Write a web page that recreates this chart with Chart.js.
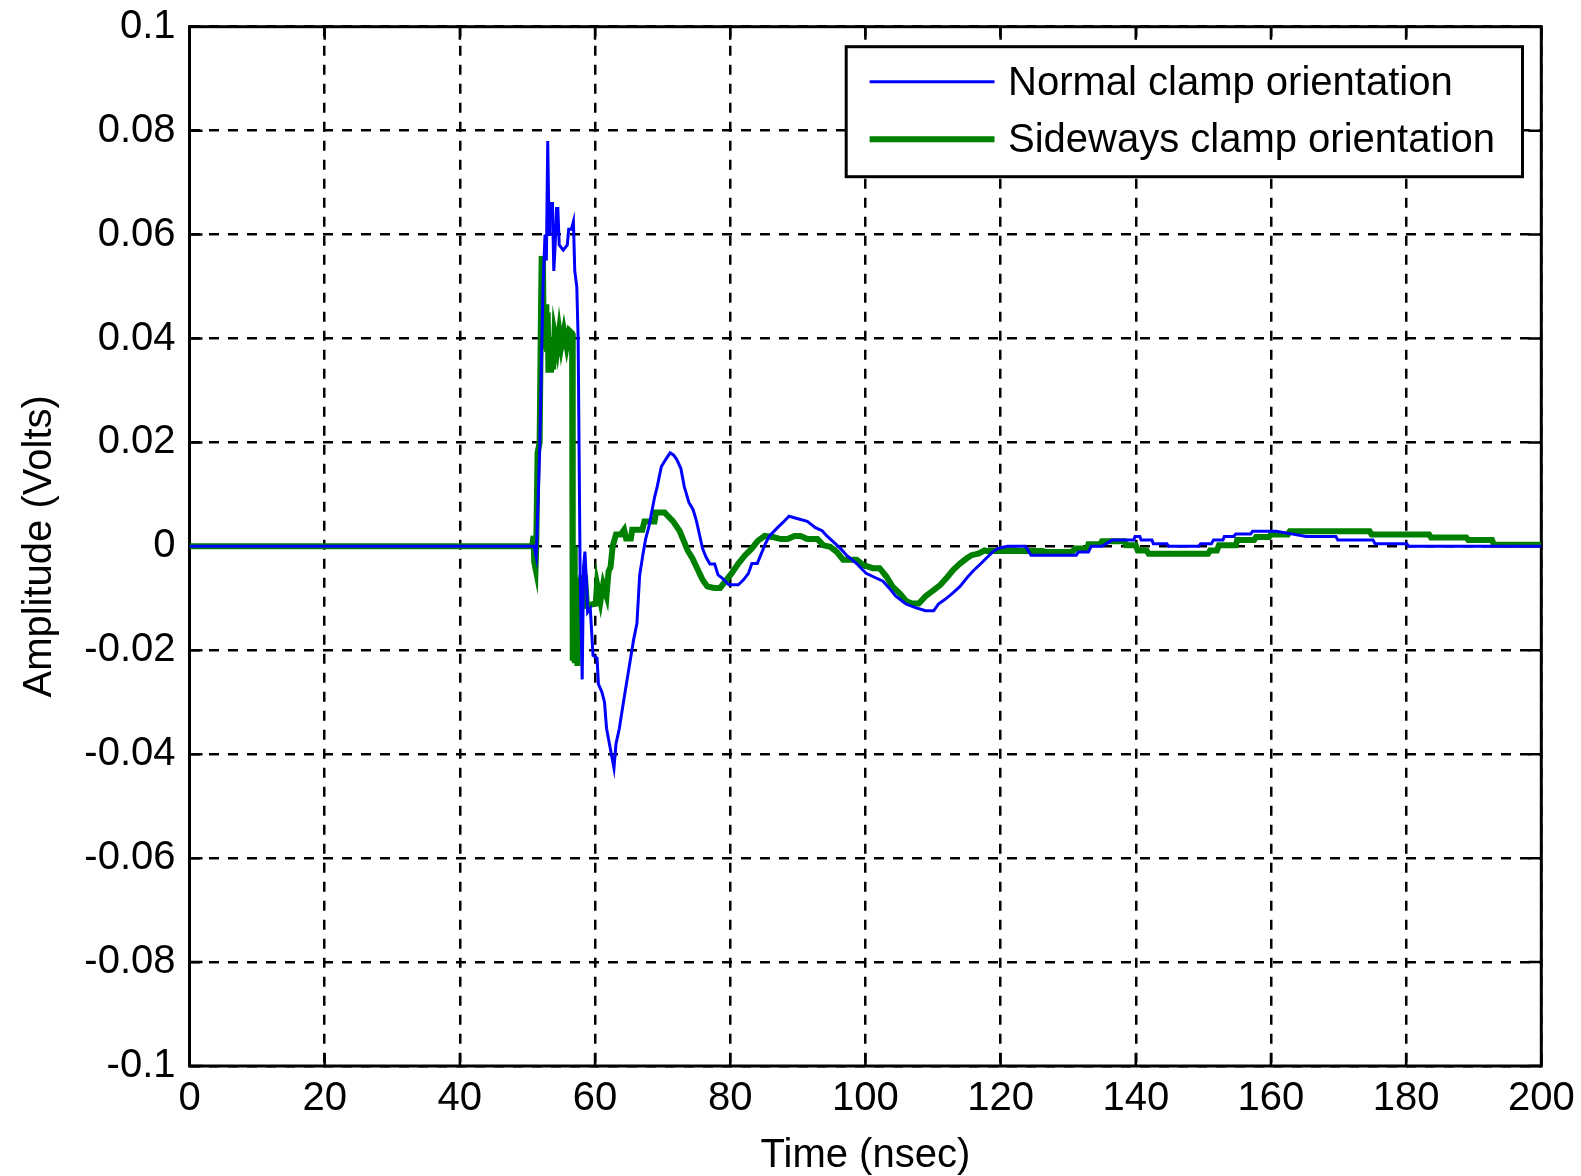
<!DOCTYPE html>
<html>
<head>
<meta charset="utf-8">
<script src="https://cdn.jsdelivr.net/npm/chart.js@4.4.1/dist/chart.umd.min.js"></script>
<style>
  html, body { margin: 0; padding: 0; background: #fff; }
  #wrap { width: 1581px; height: 1176px; }
</style>
</head>
<body>
<div id="wrap"><canvas id="c" width="1581" height="1176"></canvas></div>
<script>
// ---- data ----
const xTickValues = [0, 20, 40, 60, 80, 100, 120, 140, 160, 180, 200];
const yTickValues = [-0.1, -0.08, -0.06, -0.04, -0.02, 0, 0.02, 0.04, 0.06, 0.08, 0.1];
const seriesLabels = ['Normal clamp orientation', 'Sideways clamp orientation'];

const normalTime = [0, 51.0, 51.3, 51.8, 52.3, 52.6, 52.8, 53.0, 53.2, 53.3, 53.7, 53.9, 54.1, 54.3, 54.5, 54.7, 55.3, 55.9, 56.1, 56.5, 56.8, 57.0, 57.3, 57.5, 57.8, 58.1, 58.3, 58.5, 58.7, 58.9, 59.3, 59.7, 60.3, 60.5, 61.0, 61.4, 61.7, 62.2, 62.8, 63.1, 63.6, 64.2, 64.7, 65.2, 65.7, 66.2, 66.6, 67.1, 67.5, 68.0, 68.8, 69.2, 69.8, 70.4, 71.1, 71.6, 72.1, 72.7, 73.2, 73.9, 74.5, 75.0, 75.5, 75.9, 76.4, 77.0, 77.7, 78.2, 78.8, 79.8, 81.2, 82.0, 82.7, 83.2, 84.0, 84.6, 85.2, 85.8, 87.0, 87.8, 88.7, 90.0, 91.4, 92.6, 93.6, 94.3, 95.3, 96.3, 97.2, 98.7, 100.1, 101.1, 102.6, 103.5, 104.5, 106.0, 107.4, 108.9, 110.1, 110.8, 111.8, 113.0, 114.0, 115.0, 115.9, 117.1, 118.1, 118.8, 119.6, 121.0, 123.7, 124.5, 131.2, 131.5, 133.0, 133.4, 135.0, 136.5, 139.7, 139.9, 140.6, 140.8, 142.4, 142.6, 144.6, 144.9, 149.3, 149.6, 151.2, 151.5, 152.9, 153.1, 154.5, 154.8, 157.0, 157.3, 160.8, 163.0, 165.2, 169.6, 169.9, 175.1, 175.4, 180.1, 180.4, 192.2, 200];
const normalAmp = [0, 0, -0.002, 0.018, 0.05, 0.060, 0.055, 0.078, 0.060, 0.066, 0.066, 0.053, 0.058, 0.065, 0.065, 0.058, 0.057, 0.058, 0.061, 0.061, 0.0625, 0.053, 0.050, 0.040, -0.006, -0.0256, -0.004, -0.001, -0.006, -0.0127, -0.012, -0.021, -0.0215, -0.0265, -0.028, -0.030, -0.035, -0.0385, -0.0427, -0.038, -0.035, -0.030, -0.026, -0.022, -0.018, -0.0148, -0.0056, -0.0014, 0.0015, 0.004, 0.0094, 0.0115, 0.0153, 0.0166, 0.0180, 0.0176, 0.0167, 0.015, 0.0115, 0.0084, 0.0071, 0.0049, 0.002, -0.0004, -0.002, -0.0034, -0.0034, -0.0055, -0.0061, -0.0074, -0.0074, -0.0064, -0.0052, -0.0033, -0.0033, -0.0014, 0.0005, 0.002, 0.0036, 0.0046, 0.0058, 0.0053, 0.0048, 0.0036, 0.003, 0.002, 0.0008, -0.0004, -0.0017, -0.0033, -0.0052, -0.0058, -0.0067, -0.008, -0.0096, -0.0111, -0.0118, -0.0124, -0.0124, -0.0111, -0.0102, -0.0089, -0.0077, -0.0061, -0.0048, -0.0033, -0.002, -0.0011, -0.0004, 0, 0, -0.0017, -0.0017, -0.0011, -0.0011, 0, 0, 0.0012, 0.0012, 0.0019, 0.0019, 0.0012, 0.0012, 0.0005, 0.0005, 0, 0, 0.0005, 0.0005, 0.0012, 0.0012, 0.0019, 0.0019, 0.0024, 0.0024, 0.0029, 0.0029, 0.0024, 0.0019, 0.0019, 0.0012, 0.0012, 0.0005, 0.0005, 0, 0, 0];

const sidewaysTime = [0, 50.7, 50.9, 51.0, 51.2, 51.3, 51.5, 51.8, 52.0, 52.1, 52.3, 52.4, 52.6, 52.8, 52.9, 53.0, 53.1, 53.5, 53.7, 53.8, 54.0, 54.4, 54.7, 55.0, 55.4, 55.8, 56.2, 56.6, 56.7, 56.9, 57.0, 57.2, 57.4, 57.6, 57.8, 58.0, 58.2, 58.5, 58.8, 60.1, 60.3, 60.8, 61.2, 61.7, 62.0, 62.3, 62.6, 63.1, 63.8, 64.3, 64.6, 65.3, 65.5, 67.0, 67.3, 68.8, 69.0, 70.3, 70.8, 71.5, 72.5, 73.2, 73.7, 74.4, 75.1, 75.9, 76.6, 77.6, 78.5, 79.3, 80.2, 81.2, 82.2, 83.2, 84.1, 85.1, 86.3, 87.5, 88.5, 89.5, 90.4, 91.4, 92.9, 93.8, 94.8, 95.8, 96.7, 98.7, 99.7, 101.1, 102.1, 103.1, 104.0, 105.2, 106.0, 106.9, 107.9, 108.9, 109.9, 111.1, 112.0, 113.0, 114.0, 115.0, 115.7, 116.7, 117.6, 118.0, 126.2, 126.8, 130.6, 131.0, 132.8, 133.0, 134.7, 135.0, 138.3, 138.6, 140.0, 140.3, 141.6, 141.9, 150.7, 151.0, 152.0, 152.3, 154.8, 155.0, 157.5, 157.8, 159.7, 160.0, 162.5, 162.8, 174.6, 174.9, 183.4, 183.7, 188.9, 189.2, 192.7, 193.0, 200];
const sidewaysAmp = [0, 0, 0.002, -0.003, -0.0043, 0, 0.018, 0.020, 0.045, 0.0553, 0.0553, 0.038, 0.046, 0.046, 0.038, 0.045, 0.034, 0.034, 0.040, 0.034, 0.041, 0.038, 0.0415, 0.0385, 0.0415, 0.0385, 0.0415, 0.041, -0.022, 0.0, -0.0225, -0.006, -0.023, -0.008, -0.012, -0.0055, -0.011, -0.0055, -0.0114, -0.011, -0.0073, -0.0106, -0.0073, -0.0095, -0.0048, -0.004, 0, 0.0023, 0.0023, 0.0032, 0.0015, 0.0015, 0.0032, 0.0032, 0.0048, 0.0048, 0.0065, 0.0065, 0.0058, 0.0049, 0.003, 0.0008, -0.0008, -0.0023, -0.0042, -0.0064, -0.0077, -0.008, -0.008, -0.0067, -0.0052, -0.0033, -0.0017, -0.0004, 0.0011, 0.002, 0.0018, 0.0014, 0.0014, 0.002, 0.002, 0.0014, 0.0014, 0.0002, -0.0001, -0.0011, -0.0026, -0.0026, -0.0036, -0.0042, -0.0042, -0.0058, -0.0077, -0.0092, -0.0105, -0.011, -0.011, -0.0096, -0.0086, -0.0074, -0.0061, -0.0045, -0.0033, -0.0023, -0.0017, -0.0014, -0.0008, -0.0009, -0.0009, -0.0011, -0.0011, -0.0004, -0.0004, 0.0004, 0.0004, 0.001, 0.001, 0.0002, 0.0002, -0.0008, -0.0008, -0.0014, -0.0014, -0.0008, -0.0008, 0.0002, 0.0002, 0.0012, 0.0012, 0.0018, 0.0018, 0.0023, 0.0023, 0.0029, 0.0029, 0.0023, 0.0023, 0.0017, 0.0017, 0.0012, 0.0012, 0.0003, 0.0003];

// ---- layout / style ----
const FONT = 'Liberation Sans, Arial, sans-serif';
const AREA = { left: 189.5, right: 1541.3, top: 26.7, bottom: 1066 };
const W = 1581, H = 1176;

const toPoints = (xs, ys) => xs.map((x, i) => ({ x: x, y: ys[i] }));
const fmtTick = v => { const r = Math.round(v * 100) / 100; return r === 0 ? '0' : String(r); };
const zeroPad = scale => { scale.paddingTop = 0; scale.paddingBottom = 0; scale.paddingLeft = 0; scale.paddingRight = 0; };

// axes box + inward ticks on all four sides (drawn under the data, like MATLAB)
const boxPlugin = {
  id: 'matlabBox',
  beforeDatasetsDraw(chart) {
    const { ctx, chartArea: a, scales } = chart;
    ctx.save();
    ctx.strokeStyle = '#000';
    ctx.lineWidth = 3;
    ctx.setLineDash([]);
    ctx.strokeRect(a.left, a.top, a.right - a.left, a.bottom - a.top);
    const L = 13;
    ctx.lineWidth = 2.5;
    ctx.beginPath();
    xTickValues.forEach(v => {
      const px = scales.x.getPixelForValue(v);
      ctx.moveTo(px, a.bottom); ctx.lineTo(px, a.bottom - L);
      ctx.moveTo(px, a.top); ctx.lineTo(px, a.top + L);
    });
    yTickValues.forEach(v => {
      const py = scales.y.getPixelForValue(v);
      ctx.moveTo(a.left, py); ctx.lineTo(a.left + L, py);
      ctx.moveTo(a.right, py); ctx.lineTo(a.right - L, py);
    });
    ctx.stroke();
    ctx.restore();
  }
};

// MATLAB-style boxed legend in the upper right
const legendPlugin = {
  id: 'matlabLegend',
  afterDatasetsDraw(chart) {
    const { ctx } = chart;
    const box = { x: 846.2, y: 46.7, w: 676.3, h: 130 };
    ctx.save();
    ctx.fillStyle = '#fff';
    ctx.fillRect(box.x, box.y, box.w, box.h);
    ctx.strokeStyle = '#000';
    ctx.lineWidth = 3;
    ctx.setLineDash([]);
    ctx.strokeRect(box.x, box.y, box.w, box.h);
    const rows = [81.7, 139.3];
    chart.data.datasets.forEach((ds, i) => {
      const y = rows[i];
      ctx.strokeStyle = ds.borderColor;
      ctx.lineWidth = ds.borderWidth;
      ctx.beginPath();
      ctx.moveTo(869.6, y);
      ctx.lineTo(994.5, y);
      ctx.stroke();
      ctx.fillStyle = '#000';
      ctx.font = '40px ' + FONT;
      ctx.textAlign = 'left';
      ctx.textBaseline = 'middle';
      ctx.fillText(ds.label, 1008, y + 2);
    });
    ctx.restore();
  }
};

const whiteBg = {
  id: 'whiteBg',
  beforeDraw(chart) {
    const { ctx } = chart;
    ctx.save();
    ctx.fillStyle = '#fff';
    ctx.fillRect(0, 0, chart.width, chart.height);
    ctx.restore();
  }
};

new Chart(document.getElementById('c'), {
  type: 'line',
  data: {
    datasets: [
      {
        label: seriesLabels[0],
        data: toPoints(normalTime, normalAmp),
        borderColor: '#0000ff',
        borderWidth: 3,
        pointRadius: 0,
        tension: 0,
        fill: false
      },
      {
        label: seriesLabels[1],
        data: toPoints(sidewaysTime, sidewaysAmp),
        borderColor: '#008000',
        borderWidth: 6,
        pointRadius: 0,
        tension: 0,
        fill: false
      }
    ]
  },
  options: {
    responsive: false,
    animation: false,
    devicePixelRatio: 1,
    layout: { padding: { left: 0, right: W - AREA.right, top: AREA.top, bottom: 0 } },
    plugins: {
      legend: { display: false },
      tooltip: { enabled: false }
    },
    scales: {
      x: {
        type: 'linear',
        min: 0, max: 200,
        afterFit(scale) { scale.height = H - AREA.bottom; zeroPad(scale); },
        afterBuildTicks(scale) { scale.ticks = xTickValues.map(v => ({ value: v })); },
        ticks: {
          stepSize: 20,
          autoSkip: false,
          maxRotation: 0,
          padding: 9,
          color: '#000',
          font: { family: FONT, size: 40 },
          callback: v => String(v)
        },
        grid: { color: '#000', lineWidth: 2.5, drawTicks: false },
        border: { display: false, dash: [10, 9] },
        title: {
          display: true,
          text: 'Time (nsec)',
          color: '#000',
          font: { family: FONT, size: 40, lineHeight: 1 },
          padding: { top: 0, bottom: 0 }
        }
      },
      y: {
        type: 'linear',
        min: -0.1, max: 0.1,
        afterFit(scale) { scale.width = AREA.left; zeroPad(scale); },
        afterBuildTicks(scale) { scale.ticks = yTickValues.map(v => ({ value: v })); },
        ticks: {
          stepSize: 0.02,
          autoSkip: false,
          padding: 14,
          color: '#000',
          font: { family: FONT, size: 40 },
          callback: v => fmtTick(v)
        },
        grid: { color: '#000', lineWidth: 2.5, drawTicks: false },
        border: { display: false, dash: [10, 9] },
        title: {
          display: true,
          text: 'Amplitude (Volts)',
          color: '#000',
          font: { family: FONT, size: 40, lineHeight: 1 },
          padding: { top: 20, bottom: 0 }
        }
      }
    }
  },
  plugins: [whiteBg, boxPlugin, legendPlugin]
});
</script>
</body>
</html>
